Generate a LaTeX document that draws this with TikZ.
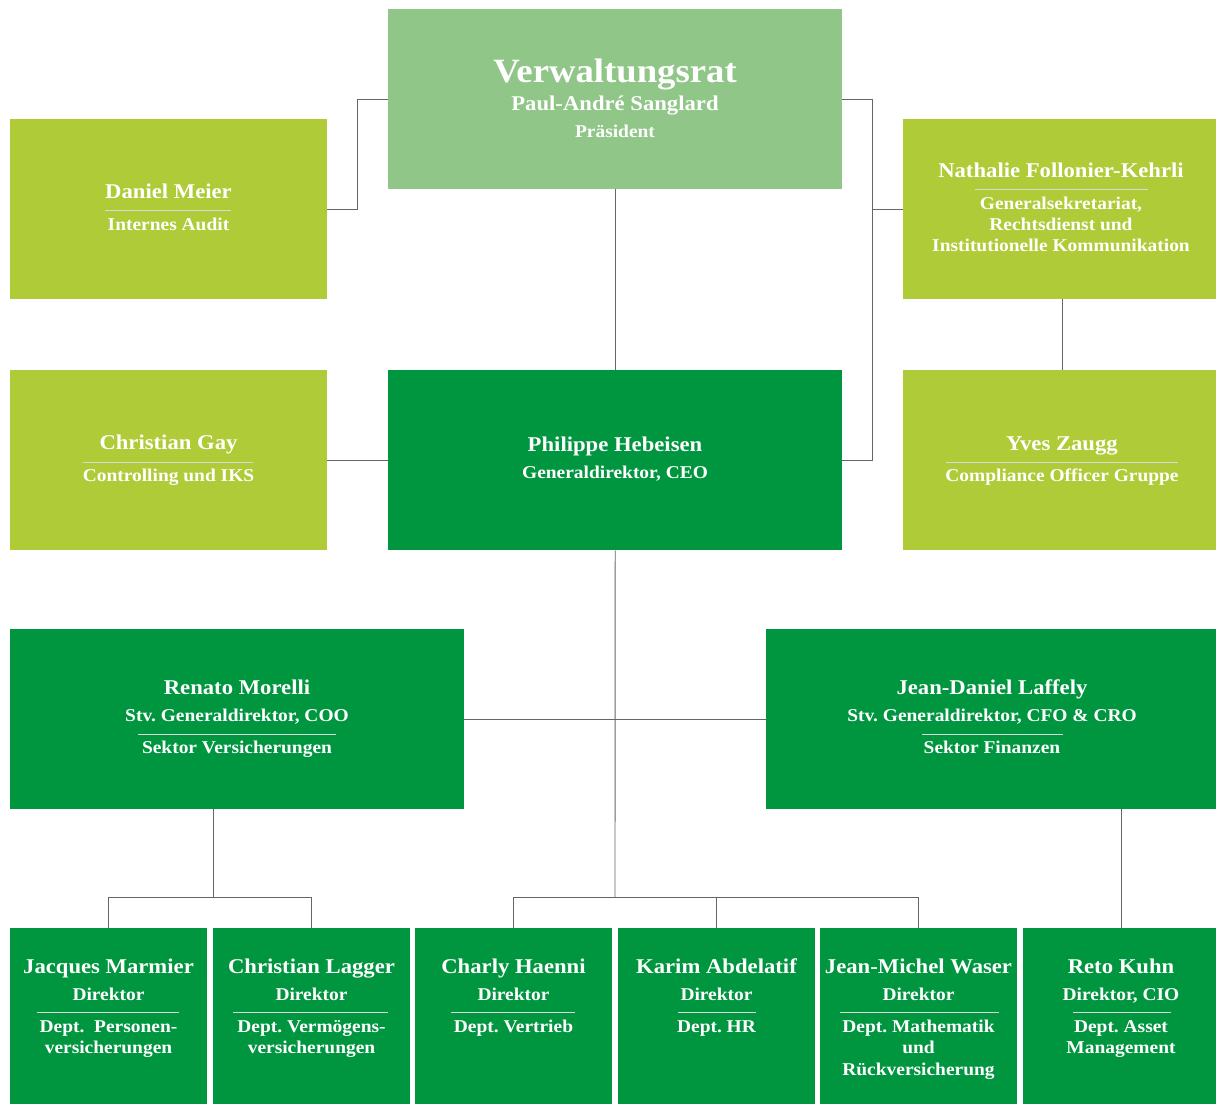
\documentclass[tikz,border=0pt]{standalone}
\usepackage{fontspec}
\setmainfont[FakeStretch=1.08]{Liberation Serif}
\usetikzlibrary{calc}
\definecolor{lightg}{HTML}{90C687}
\definecolor{limeg}{HTML}{B0CB38}
\definecolor{darkg}{HTML}{00963F}
\definecolor{conn}{HTML}{666666}
\frenchspacing
\begin{document}
\begin{tikzpicture}[x=1pt,y=-1pt,
  box/.style={draw=none, inner sep=0, anchor=north west},
  nm/.style={anchor=base, text=white, inner sep=0, font=\bfseries\fontsize{21}{24}\selectfont},
  sb/.style={anchor=base, text=white, inner sep=0, font=\bfseries\fontsize{18}{21}\selectfont},
  ttl/.style={anchor=base, text=white, inner sep=0, font=\bfseries\fontsize{34}{38}\selectfont},
  sep/.style={draw=white!85!black, line width=0.9pt},
  cn/.style={draw=conn, line width=0.9pt}]
\useasboundingbox (0,0) rectangle (1216,1104);
\fill[white] (0,0) rectangle (1216,1104);
% boxes
\node[box, fill=lightg, minimum width=454, minimum height=180] (vr) at (388,9) {};
\node[box, fill=limeg, minimum width=317, minimum height=180] (meier) at (10,119) {};
\node[box, fill=limeg, minimum width=313, minimum height=180] (nath) at (903,119) {};
\node[box, fill=limeg, minimum width=317, minimum height=180] (gay) at (10,370) {};
\node[box, fill=darkg, minimum width=454, minimum height=180] (ceo) at (388,370) {};
\node[box, fill=limeg, minimum width=313, minimum height=180] (zaugg) at (903,370) {};
\node[box, fill=darkg, minimum width=454, minimum height=180] (morelli) at (10,629) {};
\node[box, fill=darkg, minimum width=450, minimum height=180] (laffely) at (766,629) {};
\node[box, fill=darkg, minimum width=197, minimum height=176] (jacques) at (10,928) {};
\node[box, fill=darkg, minimum width=197, minimum height=176] (lagger) at (213,928) {};
\node[box, fill=darkg, minimum width=197, minimum height=176] (charly) at (415,928) {};
\node[box, fill=darkg, minimum width=197, minimum height=176] (karim) at (618,928) {};
\node[box, fill=darkg, minimum width=197, minimum height=176] (waser) at (820,928) {};
\node[box, fill=darkg, minimum width=193, minimum height=176] (reto) at (1023,928) {};
% connectors
\draw[cn] (meier.east) -- ++(30,0) |- (vr.west);
\draw[cn] (vr.east) -- ++(30,0) |- (ceo.east);
\draw[cn] (nath.west) -- ++(-31,0);
\draw[cn] (vr.south) -- (ceo.north);
\draw[cn] (gay.east) -- (ceo.west);
\draw[cn] ($(nath.south)+(2.5,0)$) -- ($(zaugg.north)+(2.5,0)$);
\coordinate (hub) at (615,897);
\draw[cn] (ceo.south) -- (hub);
\draw[cn] (morelli.east) -- (laffely.west);
\draw[cn] (charly.north) -- ++(0,-31) -| (waser.north);
\draw[cn] (karim.north) -- (karim.north |- hub);
\coordinate (mhub) at (213,897);
\draw[cn] (mhub) -- (mhub |- morelli.south);
\draw[cn] (jacques.north) -- ++(0,-31) -| (lagger.north);
\coordinate (rtop) at ($(reto.north)+(1.5,0)$);
\draw[cn] (rtop) -- (rtop |- laffely.south);
% texts: Verwaltungsrat
\node[ttl] (vr1) at (615,82) {Verwaltungsrat};
\node[nm] (vr2) at (615,110) {Paul-André Sanglard};
\node[sb] (vr3) at (615,137) {Präsident};
% Meier
\node[nm] (me1) at (168.5,198) {Daniel Meier};
\draw[sep] (105,210) -- (231,210);
\node[sb] (me2) at (168.5,230) {Internes Audit};
% Nathalie
\node[nm] (na1) at (1061,177) {Nathalie Follonier-Kehrli};
\draw[sep] (975,189) -- (1148,189);
\node[sb] (na2) at (1061,209) {Generalsekretariat,};
\node[sb] (na3) at (1061,230) {Rechtsdienst und};
\node[sb] (na4) at (1061,251) {Institutionelle Kommunikation};
% Gay
\node[nm] (ga1) at (168.5,449) {Christian Gay};
\draw[sep] (83,462) -- (253,462);
\node[sb] (ga2) at (168.5,481) {Controlling und IKS};
% CEO
\node[nm] (ce1) at (615,451) {Philippe Hebeisen};
\node[sb] (ce2) at (615,478) {Generaldirektor, CEO};
% Zaugg
\node[nm] (za1) at (1062,450) {Yves Zaugg};
\draw[sep] (946,462) -- (1178,462);
\node[sb] (za2) at (1062,481) {Compliance Officer Gruppe};
% Morelli
\node[nm] (mo1) at (237,694) {Renato Morelli};
\node[sb] (mo2) at (237,721) {Stv. Generaldirektor, COO};
\draw[sep] (138,734) -- (336,734);
\node[sb] (mo3) at (237,753) {Sektor Versicherungen};
% Laffely
\node[nm] (la1) at (992,694) {Jean-Daniel Laffely};
\node[sb] (la2) at (992,721) {Stv. Generaldirektor, CFO \& CRO};
\draw[sep] (922,734) -- (1063,734);
\node[sb] (la3) at (992,753) {Sektor Finanzen};
% bottom row
\node[nm] (ja1) at (108.5,973) {Jacques Marmier};
\node[sb] (ja2) at (108.5,1000) {Direktor};
\draw[sep] (37,1012) -- (179,1012);
\node[sb] (ja3) at (108.5,1032) {Dept.\ \ Personen-};
\node[sb] (ja4) at (108.5,1053) {versicherungen};
\node[nm] (lg1) at (311.5,973) {Christian Lagger};
\node[sb] (lg2) at (311.5,1000) {Direktor};
\draw[sep] (233,1012) -- (388,1012);
\node[sb] (lg3) at (311.5,1032) {Dept. Vermögens-};
\node[sb] (lg4) at (311.5,1053) {versicherungen};
\node[nm] (ch1) at (513.5,973) {Charly Haenni};
\node[sb] (ch2) at (513.5,1000) {Direktor};
\draw[sep] (451,1012) -- (575,1012);
\node[sb] (ch3) at (513.5,1032) {Dept. Vertrieb};
\node[nm] (ka1) at (716.5,973) {Karim Abdelatif};
\node[sb] (ka2) at (716.5,1000) {Direktor};
\draw[sep] (678,1012) -- (756,1012);
\node[sb] (ka3) at (716.5,1032) {Dept. HR};
\node[nm] (wa1) at (918.5,973) {Jean-Michel Waser};
\node[sb] (wa2) at (918.5,1000) {Direktor};
\draw[sep] (840,1012) -- (999,1012);
\node[sb] (wa3) at (918.5,1032) {Dept. Mathematik};
\node[sb] (wa4) at (918.5,1053) {und};
\node[sb] (wa5) at (918.5,1075) {Rückversicherung};
\node[nm] (re1) at (1121,973) {Reto Kuhn};
\node[sb] (re2) at (1121,1000) {Direktor, CIO};
\draw[sep] (1073,1012) -- (1171,1012);
\node[sb] (re3) at (1121,1032) {Dept. Asset};
\node[sb] (re4) at (1121,1053) {Management};
\end{tikzpicture}
\end{document}
